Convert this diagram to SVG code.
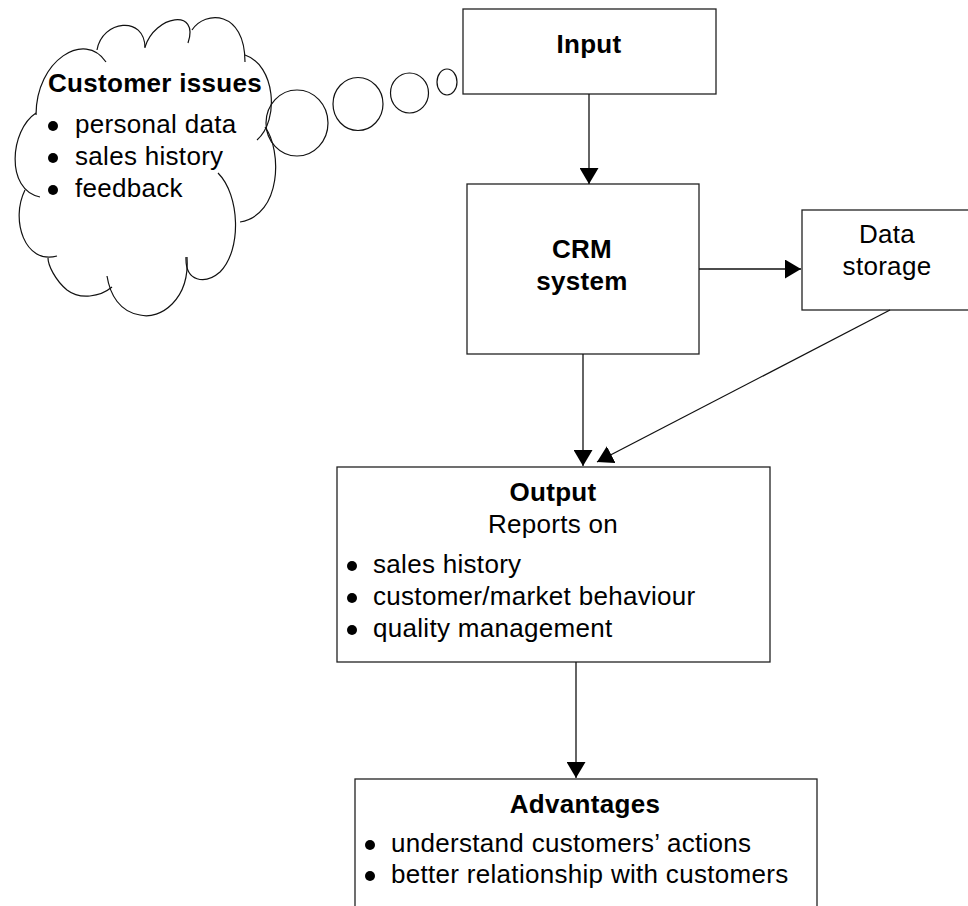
<svg xmlns="http://www.w3.org/2000/svg" width="968" height="906" viewBox="0 0 968 906">
<style>
  .box { fill: #ffffff; stroke: #222222; stroke-width: 1.3; }
  .cl { fill: none; stroke: #111111; stroke-width: 1.2; }
  .conn { stroke: #111111; stroke-width: 1.3; fill: none; }
  .t { font-family: "Liberation Sans", Arial, sans-serif; font-size: 26px; letter-spacing: 0.3px; fill: #000000; }
  .b { font-weight: bold; }
  .c { text-anchor: middle; }
  .dot { fill: #000000; }
</style>
<defs>
  <marker id="arr" viewBox="0 0 16 19" refX="16" refY="9.5" markerWidth="16" markerHeight="19" markerUnits="userSpaceOnUse" orient="auto">
    <path d="M0,0 L16,9.5 L0,19 Z" fill="#000000"/>
  </marker>
</defs>
<rect width="968" height="906" fill="#ffffff"/>

<g id="cloud">
  <path class="cl" d="M36,115 C36,60 85,30 106,62"/>
  <path class="cl" d="M97,50 C102,20 145,15 145,48"/>
  <path class="cl" d="M145,47 C155,15 200,8 188,43"/>
  <path class="cl" d="M192,30 C205,10 245,10 245,62"/>
  <path class="cl" d="M245,55 C275,65 280,120 257,140"/>
  <path class="cl" d="M265,127 C282,150 282,215 240,222"/>
  <path class="cl" d="M218,173 C240,195 242,250 220,272 C205,285 185,282 186,257"/>
  <path class="cl" d="M187,257 C190,300 160,320 140,315 C120,312 110,295 107,276"/>
  <path class="cl" d="M112,287 C100,297 80,300 67,290 C55,280 48,265 48,258"/>
  <path class="cl" d="M57,256 C25,265 10,220 25,190"/>
  <path class="cl" d="M36,113 C10,130 5,190 40,197"/>
  <ellipse class="cl" cx="297" cy="123" rx="31" ry="33"/>
  <ellipse class="cl" cx="358" cy="104" rx="25" ry="26.5"/>
  <ellipse class="cl" cx="409.5" cy="93" rx="19" ry="20"/>
  <ellipse class="cl" cx="447" cy="82" rx="10" ry="13"/>
  <text class="t b" x="48" y="92">Customer issues</text>
  <circle class="dot" cx="53" cy="126" r="5"/>
  <text class="t" x="75" y="133">personal data</text>
  <circle class="dot" cx="53" cy="158" r="5"/>
  <text class="t" x="75" y="165">sales history</text>
  <circle class="dot" cx="53" cy="190" r="5"/>
  <text class="t" x="75" y="197">feedback</text>
</g>

<g id="input">
  <rect class="box" x="463" y="9" width="253" height="85"/>
  <text class="t b c" x="589" y="53">Input</text>
</g>

<g id="crm">
  <rect class="box" x="467" y="184" width="232" height="170"/>
  <text class="t b c" x="582" y="258">CRM</text>
  <text class="t b c" x="582" y="290">system</text>
</g>

<g id="datastorage">
  <rect class="box" x="802" y="210" width="172" height="100"/>
  <text class="t c" x="887" y="243">Data</text>
  <text class="t c" x="887" y="275">storage</text>
</g>

<g id="output">
  <rect class="box" x="337" y="467" width="433" height="195"/>
  <text class="t b c" x="553" y="501">Output</text>
  <text class="t c" x="553" y="533">Reports on</text>
  <circle class="dot" cx="352" cy="566" r="5"/>
  <text class="t" x="373" y="573">sales history</text>
  <circle class="dot" cx="352" cy="598" r="5"/>
  <text class="t" x="373" y="605">customer/market behaviour</text>
  <circle class="dot" cx="352" cy="630" r="5"/>
  <text class="t" x="373" y="637">quality management</text>
</g>

<g id="advantages">
  <rect class="box" x="355" y="779" width="462" height="150"/>
  <text class="t b c" x="585" y="813">Advantages</text>
  <circle class="dot" cx="370" cy="845" r="5"/>
  <text class="t" x="391" y="852">understand customers’ actions</text>
  <circle class="dot" cx="370" cy="876" r="5"/>
  <text class="t" x="391" y="883">better relationship with customers</text>
</g>

<g id="connectors">
  <line class="conn" x1="589" y1="94" x2="589" y2="184" marker-end="url(#arr)"/>
  <line class="conn" x1="699" y1="269" x2="801" y2="269" marker-end="url(#arr)"/>
  <line class="conn" x1="583" y1="354" x2="583" y2="466" marker-end="url(#arr)"/>
  <line class="conn" x1="890" y1="310" x2="597" y2="462" marker-end="url(#arr)"/>
  <line class="conn" x1="576" y1="662" x2="576" y2="778" marker-end="url(#arr)"/>
</g>
</svg>
